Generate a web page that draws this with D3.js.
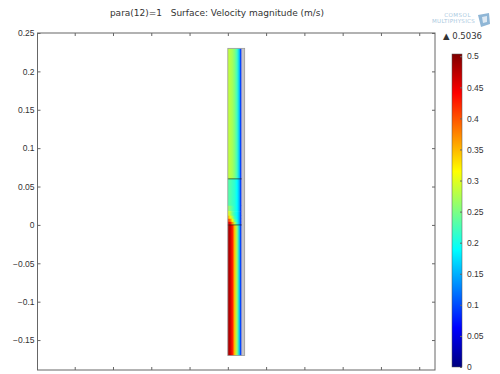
<!DOCTYPE html>
<html>
<head>
<meta charset="utf-8">
<script src="https://cdn.jsdelivr.net/npm/d3@7"></script>
<style>
  body { margin: 0; background: #fff; }
  svg { display: block; font-family: "DejaVu Sans", sans-serif; }
  .tick text { fill: #333; font-size: 8.5px; }
  .tick line { stroke: #666; }
</style>
</head>
<body>
<svg id="chart" width="500" height="374"></svg>
<script>
// data
var title = "para(12)=1   Surface: Velocity magnitude (m/s)";
var vMax = 0.5036;
var xTicks = [-0.2, -0.15, -0.1, -0.05, 0, 0.05, 0.1, 0.15, 0.2, 0.25];
var yTicks = [0.25, 0.2, 0.15, 0.1, 0.05, 0, -0.05, -0.1, -0.15];
var barTicks = [0, 0.05, 0.1, 0.15, 0.2, 0.25, 0.3, 0.35, 0.4, 0.45, 0.5];

// geometry of the channel (m)
var fluidX = [0, 0.018];
var wallX = [0.018, 0.022];
var xNodes = [0, 0.003, 0.006, 0.009, 0.012, 0.015, 0.0165, 0.018];

// velocity profiles across the channel, per band [y0, y1]
var bands = [
  {y: [0.06, 0.23],   v: [0.285, 0.28, 0.27, 0.25, 0.22, 0.16, 0.1, 0.04]},
  {y: [0.025, 0.06],  v: [0.23, 0.23, 0.22, 0.21, 0.19, 0.15, 0.1, 0.04]},
  {y: [0.018, 0.025], v: [0.27, 0.25, 0.23, 0.21, 0.19, 0.15, 0.1, 0.04]},
  {y: [0.012, 0.018], v: [0.31, 0.28, 0.24, 0.21, 0.19, 0.15, 0.1, 0.04]},
  {y: [0.008, 0.012], v: [0.36, 0.32, 0.27, 0.22, 0.19, 0.15, 0.1, 0.04]},
  {y: [0.004, 0.008], v: [0.42, 0.38, 0.31, 0.24, 0.2, 0.15, 0.1, 0.04]},
  {y: [0, 0.004],     v: [0.47, 0.44, 0.37, 0.28, 0.21, 0.15, 0.1, 0.04]},
  {y: [-0.17, 0],     v: [0.49, 0.47, 0.43, 0.34, 0.26, 0.16, 0.1, 0.03]}
];
var boundaries = [0, 0.06];

var svg = d3.select("#chart");
var defs = svg.append("defs");

var x = d3.scaleLinear().domain([-0.2486, 0.2706]).range([37.5, 435]);
var y = d3.scaleLinear().domain([-0.189, 0.25]).range([370, 33]);

// rainbow (jet-like) colour table
var color = d3.scaleLinear()
  .domain([0, 0.125, 0.375, 0.625, 0.875, 1].map(function(t){ return t * vMax; }))
  .range(["#00007f", "#0000ff", "#00ffff", "#ffff00", "#ff0000", "#7f0000"])
  .clamp(true);

// title
svg.append("text")
  .attr("x", 217).attr("y", 16)
  .attr("text-anchor", "middle")
  .style("font-size", "9px")
  .style("fill", "#333")
  .style("white-space", "pre")
  .text(title);

// logo
svg.append("text").attr("x", 471).attr("y", 17).attr("text-anchor", "end")
  .style("font-size", "5.5px").style("fill", "#a9c8e0").style("letter-spacing", "0.5px").text("COMSOL");
svg.append("text").attr("x", 475).attr("y", 23).attr("text-anchor", "end")
  .style("font-size", "5.5px").style("fill", "#a9c8e0").style("letter-spacing", "0.3px").text("MULTIPHYSICS");
svg.append("path").attr("d", "M478,15 L489,13 L490,24 L481,27 Z").attr("fill", "#8fb6d6");
svg.append("path").attr("d", "M482,17 L487,16 L487,22 L483,23 Z").attr("fill", "#fff").attr("opacity", 0.7);

// surface bands
var plot = svg.append("g");
bands.forEach(function(b, i) {
  var grad = defs.append("linearGradient").attr("id", "band" + i)
    .attr("x1", 0).attr("x2", 1).attr("y1", 0).attr("y2", 0);
  grad.selectAll("stop").data(b.v).enter().append("stop")
    .attr("offset", function(d, j) { return (xNodes[j] - fluidX[0]) / (fluidX[1] - fluidX[0]); })
    .attr("stop-color", function(d) { return color(d); });
});
plot.selectAll("rect.band").data(bands).enter().append("rect")
  .attr("class", "band")
  .attr("x", x(fluidX[0]))
  .attr("width", x(fluidX[1]) - x(fluidX[0]))
  .attr("y", function(d) { return y(d.y[1]); })
  .attr("height", function(d) { return y(d.y[0]) - y(d.y[1]) + 0.3; })
  .attr("fill", function(d, i) { return "url(#band" + i + ")"; });

// solid wall
plot.append("rect")
  .attr("x", x(wallX[0])).attr("width", x(wallX[1]) - x(wallX[0]))
  .attr("y", y(0.23)).attr("height", y(-0.17) - y(0.23))
  .attr("fill", "#c4c4c4");

// interior boundaries
plot.selectAll("line.bnd").data(boundaries).enter().append("line")
  .attr("x1", x(fluidX[0])).attr("x2", x(fluidX[1]))
  .attr("y1", function(d) { return y(d); }).attr("y2", function(d) { return y(d); })
  .attr("stroke", "#1a1a1a").attr("stroke-opacity", 0.65).attr("stroke-width", 1);

// outline
plot.append("rect")
  .attr("x", x(fluidX[0])).attr("width", x(wallX[1]) - x(fluidX[0]))
  .attr("y", y(0.23)).attr("height", y(-0.17) - y(0.23))
  .attr("fill", "none").attr("stroke", "#999").attr("stroke-width", 0.8);

// frame
svg.append("rect")
  .attr("x", 37.5).attr("y", 33).attr("width", 397.5).attr("height", 337)
  .attr("fill", "none").attr("stroke", "#666").attr("stroke-width", 1);

// axes with inner ticks
svg.append("g").attr("transform", "translate(37.5,0)")
  .call(d3.axisLeft(y).tickValues(yTicks).tickSize(-3).tickPadding(3).tickFormat(d3.format("")))
  .call(function(g) { g.select(".domain").remove(); });
svg.append("g").attr("transform", "translate(435,0)")
  .call(d3.axisRight(y).tickValues(yTicks).tickSize(-3).tickFormat(""))
  .call(function(g) { g.select(".domain").remove(); });
svg.append("g").attr("transform", "translate(0,370)")
  .call(d3.axisBottom(x).tickValues(xTicks).tickSize(-3).tickFormat(""))
  .call(function(g) { g.select(".domain").remove(); });
svg.append("g").attr("transform", "translate(0,33)")
  .call(d3.axisTop(x).tickValues(xTicks).tickSize(-3).tickFormat(""))
  .call(function(g) { g.select(".domain").remove(); });

// colour legend
var cb = d3.scaleLinear().domain([0, vMax]).range([367, 54]);
var cgrad = defs.append("linearGradient").attr("id", "cbar")
  .attr("x1", 0).attr("x2", 0).attr("y1", 1).attr("y2", 0);
cgrad.selectAll("stop").data(d3.range(0, 1.0001, 0.0625)).enter().append("stop")
  .attr("offset", function(d) { return d; })
  .attr("stop-color", function(d) { return color(d * vMax); });
svg.append("rect")
  .attr("x", 452).attr("width", 10)
  .attr("y", cb(vMax)).attr("height", cb(0) - cb(vMax))
  .attr("fill", "url(#cbar)").attr("stroke", "#555").attr("stroke-width", 0.5);
svg.append("g").attr("transform", "translate(462,0)")
  .call(d3.axisRight(cb).tickValues(barTicks).tickSize(-2).tickPadding(5).tickFormat(d3.format("")))
  .call(function(g) { g.select(".domain").remove(); g.selectAll("line").attr("stroke", "#222"); });

svg.append("text").attr("x", 443).attr("y", 39)
  .style("font-size", "8.5px").style("fill", "#333")
  .text("\u25B2 " + vMax);
</script>
</body>
</html>
